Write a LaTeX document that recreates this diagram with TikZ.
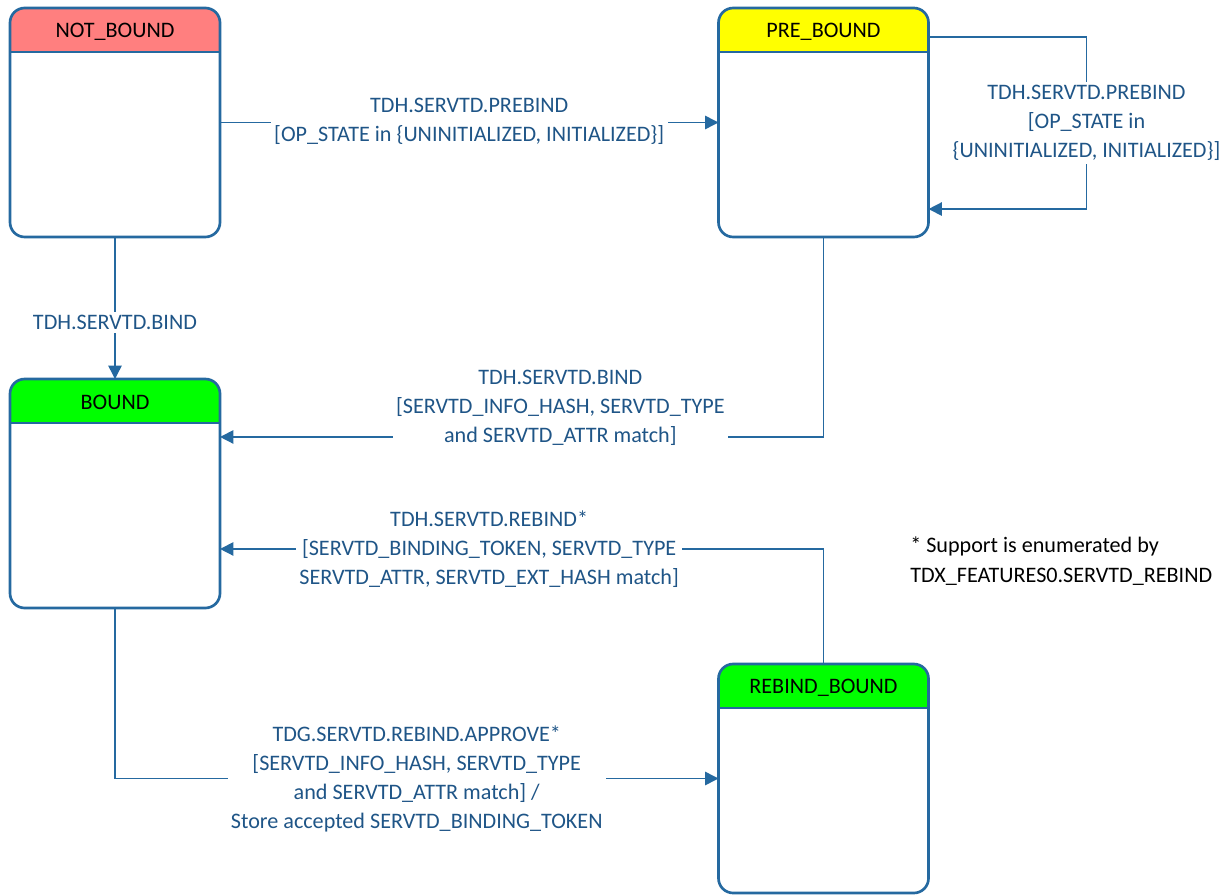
\documentclass[tikz,border=0pt]{standalone}
\usepackage{fontspec}
\setmainfont{Carlito}
\usepackage{tikz}
\usetikzlibrary{arrows.meta,positioning,calc}
\definecolor{edgeblue}{RGB}{37,105,160}
\definecolor{lblblue}{RGB}{31,85,135}
\definecolor{hdrred}{RGB}{255,127,127}
\definecolor{hdryellow}{RGB}{255,255,0}
\definecolor{hdrgreen}{RGB}{0,255,0}
\tikzset{
  state/.style={rectangle, fill=white, minimum width=157.5pt, minimum height=171.75pt, inner sep=0pt, outer sep=0pt},
  stateline/.style={draw=edgeblue, line width=2pt, rounded corners=11pt},
  title/.style={font=\fontsize{16.6}{20}\selectfont, text=black, inner sep=0pt},
  arr/.style={-{Triangle[length=10pt,width=10pt]}, draw=edgeblue, line width=1.1pt},
  lbl/.style={font=\fontsize{16.6}{21.75}\selectfont, text=lblblue, fill=white, align=center, inner sep=2.5pt},
  fnote/.style={font=\fontsize{16.6}{23}\selectfont, text=black, align=left, inner sep=0pt},
}
\begin{document}
\begin{tikzpicture}[x=0.75pt,y=-0.75pt]
\newcommand{\statebox}[5]{\node[state] (#1) at (#2,#3) {};
  \begin{scope}\clip[rounded corners=11pt] (#1.south west) rectangle (#1.north east); \fill[#5] (#1.north west) rectangle ([yshift=-33pt]#1.north east);\end{scope}
  \draw[stateline] (#1.south west) rectangle (#1.north east);
  \draw[stateline, rounded corners=0pt] ([yshift=-33pt]#1.north west) -- ([yshift=-33pt]#1.north east);
  \node[title] (#1-t) at ([yshift=-17.8pt]#1.north) {#4};}
\useasboundingbox (0,0) rectangle (1231,895);
\statebox{notbound}{115}{122.5}{NOT\_BOUND}{hdrred}
\statebox{prebound}{823.5}{122.5}{PRE\_BOUND}{hdryellow}
\statebox{bound}{115}{493.5}{BOUND}{hdrgreen}
\statebox{rebindbound}{823.5}{778.5}{REBIND\_BOUND}{hdrgreen}
\draw[arr] (notbound) -- node[lbl, pos=0.5, yshift=1pt]{TDH.SERVTD.PREBIND\\ {[}OP\_STATE in \{UNINITIALIZED, INITIALIZED\}]} (prebound);
\draw[arr] (notbound) -- node[lbl, pos=0.6]{TDH.SERVTD.BIND} (bound);
\draw[arr] ([yshift=64.1pt]prebound.east) -- ++(158,0) |- node[lbl, pos=0.25]{TDH.SERVTD.PREBIND\\ {[}OP\_STATE in\\ \{UNINITIALIZED, INITIALIZED\}]} ([yshift=-64.9pt]prebound.east);
\draw[arr] (prebound.south) |- node[lbl, pos=0.718, yshift=21.5pt]{TDH.SERVTD.BIND\\ {[}SERVTD\_INFO\_HASH, SERVTD\_TYPE\\ and SERVTD\_ATTR match]} ([yshift=42.4pt]bound.east);
\draw[arr] (rebindbound.north) |- node[lbl, pos=0.777]{TDH.SERVTD.REBIND*\\ {[}SERVTD\_BINDING\_TOKEN, SERVTD\_TYPE\\ SERVTD\_ATTR, SERVTD\_EXT\_HASH match]} ([yshift=-41.6pt]bound.east);
\draw[arr] (bound.south) |- node[lbl, pos=0.75]{TDG.SERVTD.REBIND.APPROVE*\\ {[}SERVTD\_INFO\_HASH, SERVTD\_TYPE\\ and SERVTD\_ATTR match] /\\ Store accepted SERVTD\_BINDING\_TOKEN} (rebindbound.west);
\node[fnote, anchor=west] (rebindnote) at (910,561) {* Support is enumerated by\\TDX\_FEATURES0.SERVTD\_REBIND};
\end{tikzpicture}
\end{document}
